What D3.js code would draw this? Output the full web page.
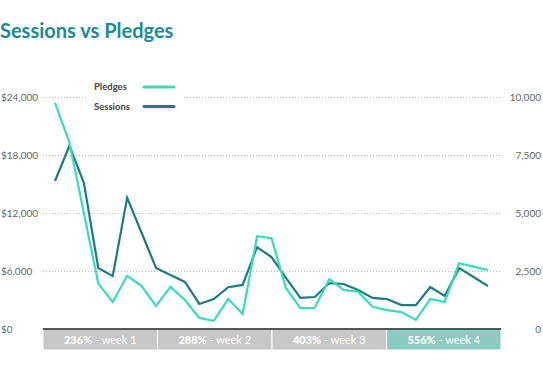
<html>
<head>
    <meta charset="UTF-8">
    <title>Sessions vs Pledges</title>
    <style>
        body { margin: 0; background: #fff; }
        text { font-family: Lato, "Open Sans", sans-serif; }
    </style>
</head>
<body>
<script src="https://d3js.org/d3.v7.min.js"></script>
<div id="chart"></div>
<script>
    // daily values over four weeks
    var days = d3.range(1, 32);
    var pledges = [23400, 19300, 12000, 4700, 2800, 5500, 4450, 2400, 4350, 3000,
                   1150, 850, 3100, 1550, 9600, 9400, 4250, 2150, 2200, 5150,
                   4050, 3850, 2300, 1950, 1750, 950, 3100, 2800, 6800, 6450, 6100];
    var sessions = [6380, 7900, 6300, 2630, 2280, 5650, 4150, 2630, 2330, 2030,
                    1080, 1290, 1800, 1900, 3530, 3100, 2200, 1340, 1380, 1980,
                    1940, 1680, 1340, 1290, 1030, 1030, 1810, 1420, 2630, 2240, 1850];
    var weeks = ["week 1", "week 2", "week 3", "week 4"];
    var weekGrowth = ["236%", "288%", "403%", "556%"];
    var pledgeTicks = [0, 6000, 12000, 18000, 24000];
    var sessionTicks = [0, 2500, 5000, 7500, 10000];

    var W = 543, H = 387,
        plotLeft = 43, plotRight = 501, plotTop = 97, plotBottom = 329;

    var pledgeColor = "#38dcbd", sessionColor = "#1e7b80";

    var svg = d3.select("#chart").append("svg")
        .attr("width", W).attr("height", H);

    svg.append("text")
        .attr("x", 0).attr("y", 38)
        .style("font-size", "20px").style("font-weight", "bold")
        .style("fill", "#1a8d8e")
        .text("Sessions vs Pledges");

    var x = d3.scaleLinear().domain([1, 31]).range([55, 488]);
    var yP = d3.scaleLinear().domain([0, 24000]).range([plotBottom, plotTop]);
    var yS = d3.scaleLinear().domain([0, 10000]).range([plotBottom, plotTop]);

    // gridlines
    svg.append("g").selectAll("line")
        .data(pledgeTicks.filter(function(d) { return d > 0; }))
        .enter().append("line")
        .attr("x1", plotLeft).attr("x2", plotRight - 1)
        .attr("y1", function(d) { return yP(d) + 0.5; })
        .attr("y2", function(d) { return yP(d) + 0.5; })
        .style("stroke", "#bbb").style("stroke-dasharray", "1,2");

    // left axis
    var leftAxis = svg.append("g")
        .call(d3.axisLeft(yP).tickValues(pledgeTicks).tickSize(0)
            .tickFormat(function(d) { return "$" + d3.format(",")(d); }));
    leftAxis.select(".domain").remove();
    leftAxis.selectAll("text")
        .attr("x", 1).attr("text-anchor", "start")
        .style("font-size", "10px").style("fill", "#666")
        .style("font-family", "Lato, sans-serif");

    // right axis
    var rightAxis = svg.append("g")
        .attr("transform", "translate(541,0)")
        .call(d3.axisLeft(yS).tickValues(sessionTicks).tickSize(0)
            .tickFormat(d3.format(",")));
    rightAxis.select(".domain").remove();
    rightAxis.selectAll("text")
        .attr("x", 0).attr("text-anchor", "end")
        .style("font-size", "10px").style("fill", "#666")
        .style("font-family", "Lato, sans-serif");

    // legend
    var legend = svg.append("g");
    legend.append("rect")
        .attr("x", 87).attr("y", 78).attr("width", 97).attr("height", 36)
        .style("fill", "#fff");
    var items = [["Pledges", pledgeColor], ["Sessions", sessionColor]];
    items.forEach(function(it, i) {
        var ly = 87 + i * 19.5;
        legend.append("text")
            .attr("x", 94).attr("y", ly).attr("dy", "0.35em")
            .style("font-size", "9.5px").style("font-weight", "bold")
            .style("fill", "#444").text(it[0]);
        legend.append("line")
            .attr("x1", 144).attr("x2", 174).attr("y1", ly).attr("y2", ly)
            .style("stroke", it[1]).style("stroke-width", 3)
            .style("stroke-linecap", "round");
    });

    // lines
    var linePledges = d3.line()
        .x(function(d, i) { return x(days[i]); })
        .y(function(d) { return yP(d); });
    var lineSessions = d3.line()
        .x(function(d, i) { return x(days[i]); })
        .y(function(d) { return yS(d); });

    svg.append("path").datum(sessions)
        .attr("d", lineSessions)
        .style("fill", "none").style("stroke", sessionColor)
        .style("stroke-width", 2.2).style("stroke-linejoin", "miter");
    svg.append("path").datum(pledges)
        .attr("d", linePledges)
        .style("fill", "none").style("stroke", pledgeColor)
        .style("stroke-width", 2.2).style("stroke-linejoin", "miter");

    // week bars
    var xw = d3.scaleBand().domain(weeks).range([plotLeft, plotRight]);
    var wk = svg.append("g").selectAll("g")
        .data(weeks).enter().append("g");
    wk.append("rect")
        .attr("x", function(d) { return xw(d); })
        .attr("y", plotBottom).attr("width", xw.bandwidth()).attr("height", 21)
        .style("fill", function(d, i) { return i === 3 ? "#8bcbc1" : "#c7c7c7"; })
        .style("stroke", "#fff").style("stroke-width", 1);
    var lbl = wk.append("text")
        .attr("x", function(d) { return xw(d) + xw.bandwidth() / 2; })
        .attr("y", plotBottom + 11).attr("dy", "0.36em")
        .attr("text-anchor", "middle")
        .style("fill", "#fff").style("font-size", "11px");
    lbl.append("tspan").style("font-weight", "900")
        .text(function(d, i) { return weekGrowth[i]; });
    lbl.append("tspan").text(function(d) { return " - " + d; });

    svg.append("line")
        .attr("x1", plotLeft).attr("x2", plotRight).attr("y1", plotBottom).attr("y2", plotBottom)
        .style("stroke", "#555").style("stroke-width", 2);
</script>
</body>
</html>
